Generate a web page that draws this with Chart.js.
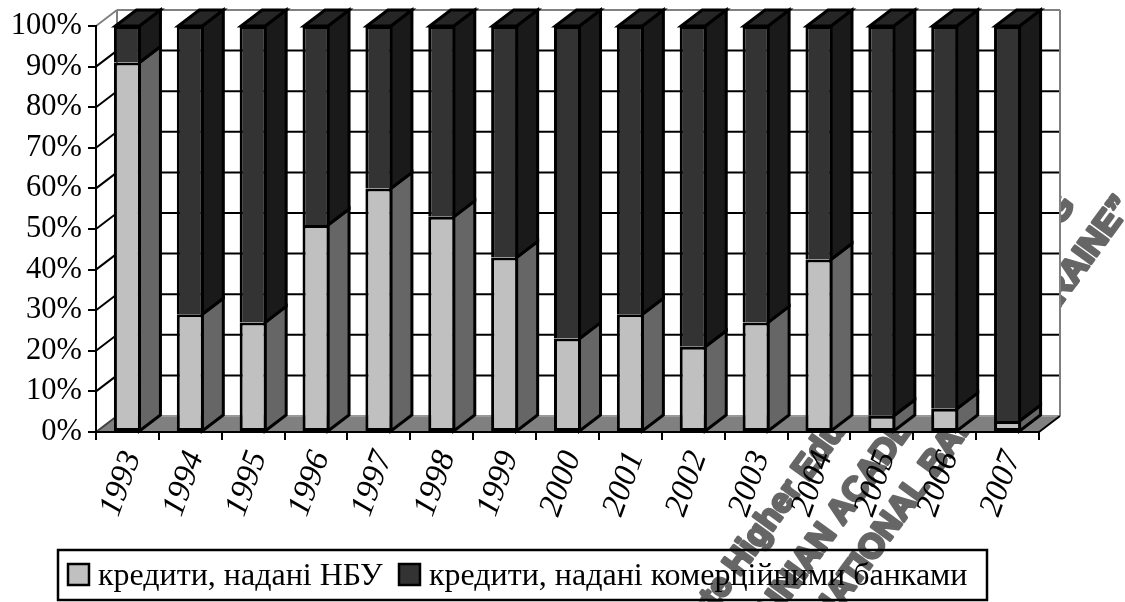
<!DOCTYPE html>
<html>
<head>
<meta charset="utf-8">
<title>Кредити</title>
<script src="https://cdn.jsdelivr.net/npm/chart.js@4/dist/chart.umd.min.js"></script>
<style>
  html, body { margin: 0; padding: 0; background: #fff; }
  canvas { display: block; }
</style>
</head>
<body>
<canvas id="creditChart" width="1125" height="602"></canvas>
<script>
const years = ["1993","1994","1995","1996","1997","1998","1999","2000","2001","2002","2003","2004","2005","2006","2007"];
const nbuShare = [91, 29, 27, 51, 60, 53, 43, 23, 29, 21, 27, 42.5, 4, 5.7, 2.7];
const bankShare = [9, 71, 73, 49, 40, 47, 57, 77, 71, 79, 73, 57.5, 96, 94.3, 97.3];
const seriesNames = ["кредити, надані НБУ", "кредити, надані комерційними банками"];
const watermarkLines = [
  "State Higher Education Institution",
  "UKRAINIAN ACADEMY OF BANKING",
  "OF THE NATIONAL BANK OF UKRAINE”"
];

// depth of the fake 3D box, in pixels
const DX = 21;
const DY = 16;
const SERIF = '"Liberation Serif", "Times New Roman", serif';

function poly(ctx, pts, fill, stroke) {
  ctx.beginPath();
  pts.forEach((p, i) => (i ? ctx.lineTo(p[0], p[1]) : ctx.moveTo(p[0], p[1])));
  ctx.closePath();
  if (fill) {
    ctx.fillStyle = fill;
    ctx.fill();
  }
  if (stroke) {
    ctx.strokeStyle = stroke;
    ctx.lineWidth = 3;
    ctx.stroke();
  }
}

function line(ctx, x1, y1, x2, y2, color) {
  ctx.beginPath();
  ctx.moveTo(x1, y1);
  ctx.lineTo(x2, y2);
  ctx.strokeStyle = color;
  ctx.lineWidth = 2;
  ctx.stroke();
}

/* grey stamp lying under the whole chart */
function drawWatermark(ctx) {
  const anchors = [[685, 652, "left"], [1076, 205, "right"], [1133, 206, "right"]];
  ctx.save();
  ctx.fillStyle = "#666666";
  ctx.strokeStyle = "#666666";
  ctx.lineWidth = 3;
  ctx.lineJoin = "round";
  ctx.font = 'bold 34px "Liberation Sans", Arial, sans-serif';
  watermarkLines.forEach((txt, i) => {
    ctx.save();
    ctx.translate(anchors[i][0], anchors[i][1]);
    ctx.textAlign = anchors[i][2];
    ctx.rotate((-54 * Math.PI) / 180);
    ctx.fillText(txt, 0, 0);
    ctx.strokeText(txt, 0, 0);
    ctx.restore();
  });
  ctx.restore();
}

const boxPlugin = {
  id: "box3d",
  beforeDraw(chart) {
    const { ctx, chartArea: a, scales } = chart;
    ctx.save();
    ctx.fillStyle = "#fff";
    ctx.fillRect(0, 0, chart.width, chart.height);
    drawWatermark(ctx);

    // back and left walls
    poly(ctx, [[a.left, a.top], [a.left + DX, a.top - DY], [a.right + DX, a.top - DY], [a.right + DX, a.bottom - DY], [a.left + DX, a.bottom - DY], [a.left, a.bottom]], "#fff");

    // grid on the walls
    scales.y.ticks.forEach((t) => {
      const y = scales.y.getPixelForValue(t.value);
      if (t.value === 0 || t.value === 100) return;
      line(ctx, a.left, y, a.left + DX, y - DY, "#000");
      line(ctx, a.left + DX, y - DY, a.right + DX, y - DY, "#000");
    });

    // grey wall outline
    line(ctx, a.left, a.top, a.left + DX, a.top - DY, "#808080");
    line(ctx, a.left + DX, a.top - DY, a.right + DX, a.top - DY, "#808080");
    line(ctx, a.left + DX, a.top - DY, a.left + DX, a.bottom - DY, "#808080");
    line(ctx, a.right + DX, a.top - DY, a.right + DX, a.bottom - DY, "#808080");

    // floor
    poly(ctx, [[a.left, a.bottom], [a.left + DX, a.bottom - DY], [a.right + DX, a.bottom - DY], [a.right, a.bottom]], "#808080");
    line(ctx, a.left + DX, a.bottom - DY, a.right + DX, a.bottom - DY, "#999999");
    line(ctx, a.left, a.bottom, a.left + DX, a.bottom - DY, "#404040");
    line(ctx, a.right, a.bottom, a.right + DX, a.bottom - DY, "#000");

    // legend frame and entries
    const lx = 58, ly = 550, lw = 929, lh = 50;
    ctx.strokeStyle = "#000";
    ctx.lineWidth = 2.5;
    ctx.strokeRect(lx, ly, lw, lh);
    const legendX = [67, 398];
    ctx.font = "32px " + SERIF;
    ctx.textBaseline = "alphabetic";
    ctx.textAlign = "left";
    seriesNames.forEach((name, i) => {
      ctx.fillStyle = chart.data.datasets[i].backgroundColor;
      ctx.fillRect(legendX[i] + 1, 564, 21, 21);
      ctx.strokeRect(legendX[i] + 1, 564, 21, 21);
      ctx.fillStyle = "#000";
      ctx.fillText(name, legendX[i] + 31, 585);
    });
    ctx.restore();
  },
  beforeDatasetsDraw(chart) {
    const { ctx } = chart;
    ctx.save();
    ctx.lineJoin = "miter";
    chart.data.datasets.forEach((ds, i) => {
      chart.getDatasetMeta(i).data.forEach((bar) => {
        const p = bar.getProps(["x", "y", "base", "width"], true);
        const l = p.x - p.width / 2 + 1.5;
        const r = p.x + p.width / 2 - 1.5;
        poly(ctx, [[r, p.y], [r + DX, p.y - DY], [r + DX, p.base - DY], [r, p.base]], ds.sideColor, "#000");
        if (ds.topColor) {
          poly(ctx, [[l, p.y], [l + DX, p.y - DY], [r + DX, p.y - DY], [r, p.y]], ds.topColor, "#000");
        }
      });
    });
    ctx.restore();
  }
};

new Chart(document.getElementById("creditChart"), {
  type: "bar",
  data: {
    labels: years,
    datasets: [
      {
        label: seriesNames[0],
        data: nbuShare,
        backgroundColor: "#C0C0C0",
        borderColor: "#000",
        borderWidth: 3,
        borderSkipped: false,
        sideColor: "#666666"
      },
      {
        label: seriesNames[1],
        data: bankShare,
        backgroundColor: "#333333",
        borderColor: "#000",
        borderWidth: 3,
        borderSkipped: "bottom",
        sideColor: "#1A1A1A",
        topColor: "#262626"
      }
    ]
  },
  options: {
    responsive: false,
    animation: false,
    barPercentage: 0.43,
    categoryPercentage: 1,
    layout: { padding: { top: 26, right: 86, left: 0, bottom: 0 } },
    plugins: {
      legend: { display: false },
      tooltip: { enabled: false }
    },
    scales: {
      x: {
        stacked: true,
        afterFit(s) { s.height = 170; s.paddingLeft = 0; s.paddingRight = 0; },
        grid: { drawOnChartArea: false, color: "#000", lineWidth: 2, tickLength: 8 },
        border: { color: "#000", width: 2 },
        ticks: {
          autoSkip: false,
          minRotation: 70,
          maxRotation: 70,
          padding: 6,
          labelOffset: 5,
          color: "#000",
          font: { family: SERIF, size: 33, style: "italic" }
        }
      },
      y: {
        stacked: true,
        min: 0,
        max: 100,
        afterFit(s) { s.width = 96; s.paddingTop = 0; s.paddingBottom = 0; },
        grid: { drawOnChartArea: false, color: "#000", lineWidth: 2, tickLength: 8 },
        border: { color: "#000", width: 2 },
        ticks: {
          stepSize: 10,
          padding: 6,
          color: "#000",
          font: { family: SERIF, size: 30.5 },
          callback: (v) => v + "%"
        }
      }
    }
  },
  plugins: [boxPlugin]
});
</script>
</body>
</html>
